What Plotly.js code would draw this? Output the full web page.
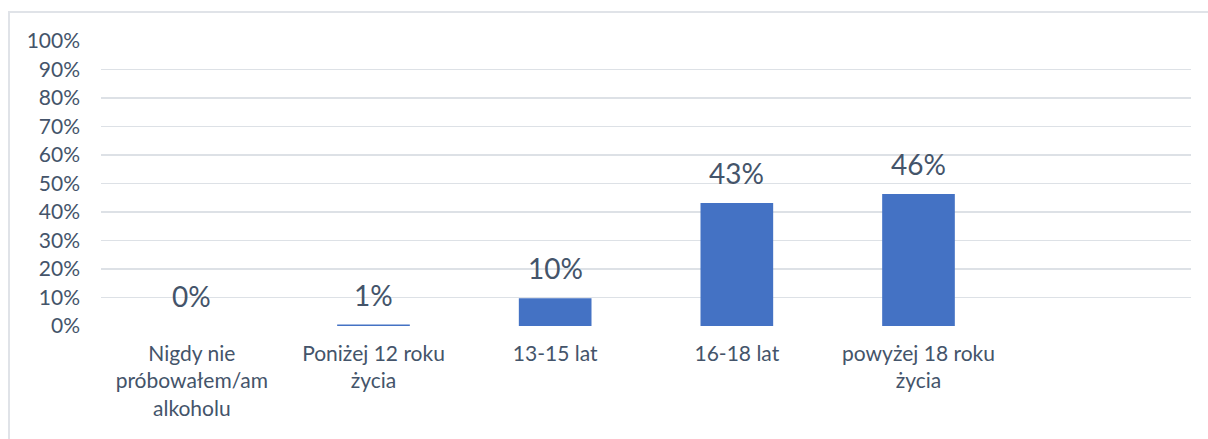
<!DOCTYPE html>
<html>
<head>
<meta charset="utf-8">
<script src="https://cdn.plot.ly/plotly-3.0.1.min.js"></script>
<style>
  html, body { margin: 0; padding: 0; background: #ffffff; }
  #wrap { position: relative; width: 1208px; height: 439px; overflow: hidden; }
  #chart { position: absolute; left: 0; top: 0; width: 1208px; height: 439px; }
  #frame { position: absolute; left: 8px; top: 11px; width: 1210px; height: 440px;
           border-top: 2px solid #e0e3e8; border-left: 2px solid #e0e3e8; pointer-events: none; }
</style>
</head>
<body>
<div id="wrap">
  <div id="chart"></div>
  <div id="frame"></div>
</div>
<script>
const categories = [
  "Nigdy nie<br>próbowałem/am<br>alkoholu",
  "Poniżej 12 roku<br>życia",
  "13-15 lat",
  "16-18 lat",
  "powyżej 18 roku<br>życia"
];
const values = [0.0, 0.005, 0.097, 0.432, 0.463];
const yTickVals = [0, 0.1, 0.2, 0.3, 0.4, 0.5, 0.6, 0.7, 0.8, 0.9, 1.0];
const yTickText = ["0%", "10%", "20%", "30%", "40%", "50%", "60%", "70%", "80%", "90%", "100%"];

const textColor = "#44546a";
const fontFamily = "Lato, 'Open Sans', sans-serif";

const trace = {
  type: "bar",
  x: categories,
  y: values,
  width: 0.4,
  marker: { color: "#4472c4" },
  hoverinfo: "skip"
};

const annotations = categories.map((c, i) => ({
  x: c,
  y: values[i],
  xref: "x",
  yref: "y",
  text: Math.round(values[i] * 100) + "%",
  showarrow: false,
  yanchor: "middle",
  yshift: 30,
  font: { family: fontFamily, size: 28, color: textColor }
}));

const layout = {
  width: 1208,
  height: 439,
  margin: { l: 101, r: 17, t: 41, b: 113 },
  paper_bgcolor: "rgba(0,0,0,0)",
  plot_bgcolor: "#ffffff",
  showlegend: false,
  bargap: 0.6,
  font: { family: fontFamily, size: 21, color: textColor },
  xaxis: {
    type: "category",
    range: [-0.5, 5.5],
    showgrid: false,
    zeroline: false,
    showline: false,
    ticks: "",
    ticklabelstandoff: 13,
    tickfont: { family: fontFamily, size: 21, color: textColor },
    fixedrange: true
  },
  yaxis: {
    range: [0, 1],
    tickvals: yTickVals,
    ticktext: yTickText,
    showgrid: true,
    gridcolor: "#dde1e6",
    gridwidth: 1.5,
    zeroline: false,
    showline: false,
    ticks: "",
    ticklabelstandoff: 20,
    tickfont: { family: fontFamily, size: 21, color: textColor },
    fixedrange: true
  },
  annotations: annotations
};

Plotly.newPlot("chart", [trace], layout, { displayModeBar: false, staticPlot: true });
</script>
</body>
</html>
